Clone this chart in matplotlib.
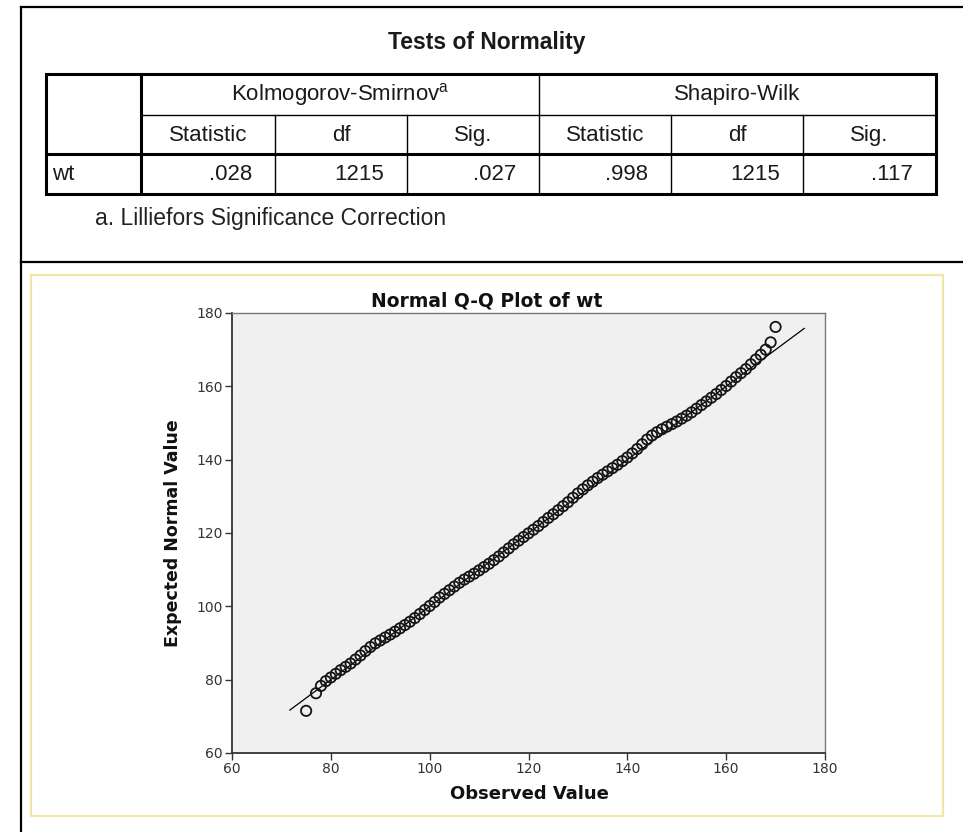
import numpy as np
import matplotlib
matplotlib.use("Agg")
import matplotlib.pyplot as plt
from matplotlib.patches import Rectangle

# --- table values ---
table_title = "Tests of Normality"
test_names = ["Kolmogorov-Smirnov", "Shapiro-Wilk"]
sub_headers = ["Statistic", "df", "Sig."]
row_label = "wt"
ks_values = [".028", "1215", ".027"]
sw_values = [".998", "1215", ".117"]
footnote = "a. Lilliefors Significance Correction"

# --- Q-Q plot values ---
observed = [75, 77, 78, 79, 80, 81, 82, 83, 84, 85, 86, 87, 88, 89, 90,
            91, 92, 93, 94, 95, 96, 97, 98, 99, 100, 101, 102, 103, 104, 105,
            106, 107, 108, 109, 110, 111, 112, 113, 114, 115, 116, 117, 118, 119, 120,
            121, 122, 123, 124, 125, 126, 127, 128, 129, 130, 131, 132, 133, 134, 135,
            136, 137, 138, 139, 140, 141, 142, 143, 144, 145, 146, 147, 148, 149, 150,
            151, 152, 153, 154, 155, 156, 157, 158, 159, 160, 161, 162, 163, 164, 165,
            166, 167, 168, 169, 170]
expected = [71.5, 76.3, 78.3, 79.6, 80.6, 81.6, 82.6, 83.5, 84.4, 85.5, 86.6, 87.8, 88.9, 89.9, 90.7,
            91.5, 92.3, 93.1, 94.0, 94.9, 95.8, 96.8, 97.9, 99.0, 100.1, 101.2, 102.4, 103.4, 104.4, 105.4,
            106.4, 107.3, 108.1, 108.9, 109.8, 110.7, 111.6, 112.6, 113.6, 114.7, 115.8, 116.9, 117.9, 118.9, 119.9,
            120.9, 121.9, 123.0, 124.1, 125.1, 126.2, 127.3, 128.4, 129.6, 130.8, 131.9, 133.0, 134.0, 135.0, 135.9,
            136.8, 137.7, 138.6, 139.6, 140.6, 141.7, 142.9, 144.2, 145.5, 146.6, 147.5, 148.3, 149.0, 149.7, 150.4,
            151.2, 152.0, 152.9, 153.9, 154.9, 155.9, 156.9, 157.9, 159.0, 160.1, 161.3, 162.5, 163.6, 164.7, 166.0,
            167.3, 168.6, 170.0, 172.0, 176.2]
ref_line = [71.7, 175.8]
x_ticks = [60, 80, 100, 120, 140, 160, 180]
y_ticks = [60, 80, 100, 120, 140, 160, 180]

plt.rcParams['mathtext.fontset'] = 'custom'
plt.rcParams['mathtext.rm'] = 'Liberation Sans'

W, H = 963, 832
fig = plt.figure(figsize=(W / 100, H / 100), dpi=100)

# background layer in pixel coordinates
bg = fig.add_axes([0, 0, 1, 1])
bg.set_xlim(0, W)
bg.set_ylim(H, 0)
bg.axis("off")

# outer frame lines
bg.plot([21, 21], [7, H], color="k", lw=1.6)
bg.plot([21, W], [7, 7], color="k", lw=1.6)
bg.plot([21, W], [262, 262], color="k", lw=1.6)

tfont = ["Liberation Sans", "DejaVu Sans"]
txtc = "#1a1a1a"
bg.text(487, 43, table_title, ha="center", va="center", fontsize=16.5,
        fontweight="bold", family=tfont, color=txtc)

cols = [46, 141, 275, 407, 539, 671, 803, 936]
rows = [74, 115, 154, 194]
thick, thin = 2.2, 1.0
bg.add_patch(Rectangle((cols[0], rows[0]), cols[-1] - cols[0], rows[-1] - rows[0],
                       fill=False, lw=thick, ec="k"))
bg.plot([cols[1]] * 2, [rows[0], rows[3]], color="k", lw=thick)
bg.plot([cols[0], cols[-1]], [rows[2]] * 2, color="k", lw=thick)
bg.plot([cols[1], cols[-1]], [rows[1]] * 2, color="k", lw=thin)
bg.plot([cols[4]] * 2, [rows[0], rows[3]], color="k", lw=thin)
for c in [cols[2], cols[3], cols[5], cols[6]]:
    bg.plot([c, c], [rows[1], rows[3]], color="k", lw=thin)

for i, name in enumerate(test_names):
    cx = (cols[1 + 3 * i] + cols[4 + 3 * i]) / 2
    label = name + (r"$^{\mathrm{a}}$" if i == 0 else "")
    bg.text(cx, (rows[0] + rows[1]) / 2, label, ha="center", va="center",
            fontsize=16, family=tfont, color=txtc)
    for j, sh in enumerate(sub_headers):
        k = 1 + 3 * i + j
        bg.text((cols[k] + cols[k + 1]) / 2, (rows[1] + rows[2]) / 2 + 1, sh,
                ha="center", va="center", fontsize=16, family=tfont, color=txtc)

bg.text(52, (rows[2] + rows[3]) / 2 + 1, row_label, ha="left", va="center",
        fontsize=16, family=tfont, color=txtc)
for k, v in enumerate(ks_values + sw_values):
    bg.text(cols[k + 2] - 23, (rows[2] + rows[3]) / 2 + 1, v, ha="right", va="center",
            fontsize=16, family=tfont, color=txtc)

bg.text(95, 218, footnote, ha="left", va="center", fontsize=16.5,
        family=tfont, color="#222222")

# yellow chart frame
bg.add_patch(Rectangle((31, 275), 912, 541, fill=False, lw=1.6, ec="#efe6a8"))

# chart texts
bg.text(487, 301, "Normal Q-Q Plot of wt", ha="center", va="center",
        fontsize=13.5, fontweight="bold", color="#111111")
bg.text(529, 794, "Observed Value", ha="center", va="center",
        fontsize=13, fontweight="bold", color="#111111")
bg.text(173, 533, "Expected Normal Value", ha="center", va="center", rotation=90,
        fontsize=12.5, fontweight="bold", color="#111111")

# Q-Q plot
ax = fig.add_axes([232 / W, 1 - 753 / H, (825 - 232) / W, (753 - 313) / H])
ax.set_facecolor("#f0f0f0")
ax.plot(ref_line, ref_line, color="k", lw=0.9, zorder=2)
ax.scatter(observed, expected, s=55, facecolors="none", edgecolors="#151515",
           linewidths=1.3, zorder=3)
ax.set_xlim(60, 180)
ax.set_ylim(60, 180)
ax.set_xticks(x_ticks)
ax.set_yticks(y_ticks)
ax.tick_params(length=5, width=1, pad=1.5, labelsize=10, colors="#333333",
               direction="out")
for s in ["left", "bottom"]:
    ax.spines[s].set_color("#333333")
    ax.spines[s].set_linewidth(1.3)
for s in ["top", "right"]:
    ax.spines[s].set_color("#777777")
    ax.spines[s].set_linewidth(1.0)

fig.savefig("out.png", dpi=100, facecolor="white")
